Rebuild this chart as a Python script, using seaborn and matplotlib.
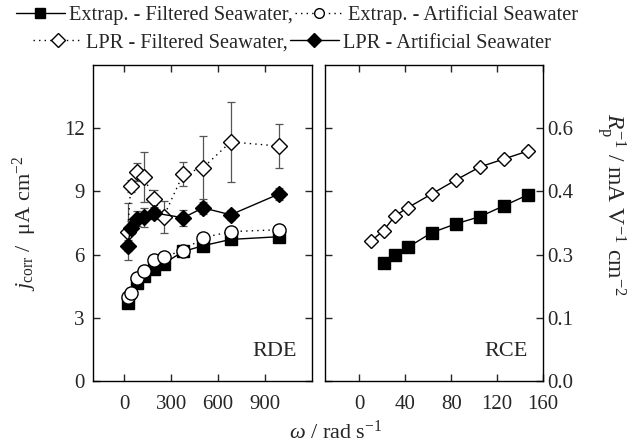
import numpy as np
import pandas as pd
import matplotlib
matplotlib.use("Agg")
import matplotlib.pyplot as plt
import seaborn as sns
from matplotlib.lines import Line2D

sns.set_style("ticks")
plt.rcParams['font.family'] = ['Liberation Serif', 'DejaVu Serif']
plt.rcParams['mathtext.fontset'] = 'custom'
plt.rcParams['mathtext.rm'] = 'Liberation Serif'
plt.rcParams['mathtext.it'] = 'Liberation Serif:italic'
plt.rcParams['font.size'] = 14

# ---- RDE data (left panel) ----
rde_extrap_filt_x = [21, 84, 126, 188, 251, 377, 503, 680, 990]
rde_extrap_filt_y = [3.68, 4.63, 5.0, 5.34, 5.57, 6.15, 6.42, 6.72, 6.85]

rde_extrap_art_x = [21, 42, 84, 126, 188, 251, 377, 503, 680, 990]
rde_extrap_art_y = [3.97, 4.16, 4.91, 5.24, 5.72, 5.90, 6.19, 6.80, 7.09, 7.18]

rde_lpr_filt_x = [21, 42, 84, 126, 188, 251, 377, 503, 680, 990]
rde_lpr_filt_y = [7.09, 9.26, 9.92, 9.68, 8.64, 7.79, 9.83, 10.12, 11.35, 11.15]
rde_lpr_filt_err = [1.35, 0.3, 0.45, 1.2, 0.45, 0.75, 0.55, 1.5, 1.9, 1.03]

rde_lpr_art_x = [21, 42, 84, 126, 188, 377, 503, 680, 990]
rde_lpr_art_y = [6.42, 7.28, 7.70, 7.78, 7.98, 7.75, 8.22, 7.89, 8.88]
rde_lpr_art_err = [0.25, 0.3, 0.35, 0.45, 0.3, 0.38, 0.3, 0.25, 0.3]

# ---- RCE data (right panel) ----
rce_extrap_filt_x = [21, 31, 42, 63, 84, 105, 126, 147]
rce_extrap_filt_y = [0.281, 0.300, 0.317, 0.352, 0.373, 0.390, 0.416, 0.442]

rce_lpr_filt_x = [10.5, 21, 31, 42, 63, 84, 105, 126, 147]
rce_lpr_filt_y = [0.333, 0.357, 0.392, 0.411, 0.444, 0.477, 0.508, 0.527, 0.546]

left_yticks = [0, 3, 6, 9, 12]
left_xticks = [0, 300, 600, 900]
right_xticks = [0, 40, 80, 120, 160]
right_yticks = [0, 0.15, 0.30, 0.45, 0.60]
right_yticklabels = ['0.0', '0.1', '0.3', '0.4', '0.6']

fig = plt.figure(figsize=(6.37, 4.48), dpi=100)
axL = fig.add_axes([93/637, 67/448, 219/637, 316/448])
axR = fig.add_axes([325/637, 67/448, 218/637, 316/448])

dot = (0, (1, 3))
lw = 1.0

def draw(ax, x, y, marker, mfc, ls, ms, err=None):
    df = pd.DataFrame({'x': x, 'y': y})
    if err is not None:
        ax.errorbar(x, y, yerr=err, fmt='none', ecolor='#555555', elinewidth=0.9,
                    capsize=3, capthick=0.9, zorder=2)
    sns.lineplot(data=df, x='x', y='y', ax=ax, color='black', linewidth=lw,
                 linestyle=ls, marker=marker, markersize=ms,
                 markerfacecolor=mfc, markeredgecolor='black', markeredgewidth=1.0,
                 zorder=3, estimator=None, sort=False)

draw(axL, rde_lpr_filt_x, rde_lpr_filt_y, 'D', 'white', dot, 8.5, rde_lpr_filt_err)
draw(axL, rde_lpr_art_x, rde_lpr_art_y, 'D', 'black', '-', 8.5, rde_lpr_art_err)
draw(axL, rde_extrap_filt_x, rde_extrap_filt_y, 's', 'black', '-', 8)
draw(axL, rde_extrap_art_x, rde_extrap_art_y, 'o', 'white', dot, 9.5)

draw(axR, rce_extrap_filt_x, rce_extrap_filt_y, 's', 'black', '-', 8)
draw(axR, rce_lpr_filt_x, rce_lpr_filt_y, 'D', 'white', '-', 7.5)

axL.set_xlim(-200, 1200)
axL.set_ylim(0, 15)
axL.set_xticks(left_xticks)
axL.set_yticks(left_yticks)
axL.set_xlabel('')
axL.set_ylabel(r'$j_{\mathrm{corr}}$ /  μA cm$^{-2}$', fontsize=16)
axL.yaxis.set_label_coords(-0.245, 0.5)
axL.tick_params(direction='in', top=True, right=True, length=5, width=1,
                labelsize=15, pad=6)
axL.tick_params(axis='x', pad=10)

axR.set_xlim(-30, 160)
axR.set_ylim(0, 0.75)
axR.set_xticks(right_xticks)
axR.set_yticks(right_yticks)
axR.set_yticklabels(right_yticklabels)
axR.set_xlabel('')
axR.yaxis.set_label_position('right')
axR.yaxis.tick_right()
axR.set_ylabel(r'$R_{\mathrm{p}}^{-1}$ / mA V$^{-1}$ cm$^{-2}$', fontsize=17,
               rotation=270, va='center')
axR.yaxis.set_label_coords(1.31, 0.56)
axR.tick_params(direction='in', top=True, left=True, right=True, length=5, width=1,
                labelsize=15, pad=3, labelleft=False, labelright=True)
axR.tick_params(axis='x', pad=10)

for ax in (axL, axR):
    for s in ax.spines.values():
        s.set_linewidth(1.0)
        s.set_color('black')

axL.text(0.93, 0.092, 'RDE', transform=axL.transAxes, ha='right', va='center', fontsize=16)
axR.text(0.93, 0.092, 'RCE', transform=axR.transAxes, ha='right', va='center', fontsize=16)

fig.text(336/637, 1 - 432/448, r'$\omega$ / rad s$^{-1}$', ha='center', va='center', fontsize=16)

def h(marker, mfc, ls, ms):
    return Line2D([], [], color='black', lw=lw, linestyle=ls, marker=marker,
                  markersize=ms, markerfacecolor=mfc, markeredgecolor='black')

leg_kw = dict(ncol=2, frameon=False, fontsize=14.7, handlelength=2.4,
              handletextpad=0.2, columnspacing=0.1, borderpad=0, borderaxespad=0)
leg1 = fig.legend([h('s', 'black', '-', 7), h('o', 'white', dot, 7)],
                  ['Extrap. - Filtered Seawater,', 'Extrap. - Artificial Seawater'],
                  loc='center', bbox_to_anchor=(297/637, 1 - 15/448), **leg_kw)
leg2 = fig.legend([h('D', 'white', dot, 7), h('D', 'black', '-', 7)],
                  ['LPR - Filtered Seawater,', 'LPR - Artificial Seawater'],
                  loc='center', bbox_to_anchor=(292/637, 1 - 43/448), **leg_kw)

fig.savefig('out.png', dpi=100)
